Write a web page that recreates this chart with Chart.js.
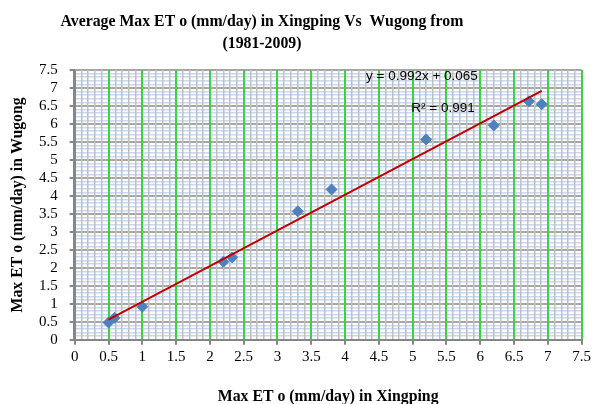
<!DOCTYPE html>
<html>
<head>
<meta charset="utf-8">
<script src="https://cdn.jsdelivr.net/npm/chart.js@4.4.1/dist/chart.umd.min.js"></script>
<style>
  html, body { margin: 0; padding: 0; background: #fff; }
  #wrap { width: 594px; height: 404px; }
</style>
</head>
<body>
<div id="wrap"><canvas id="grafico" width="594" height="404"></canvas></div>
<script>
const xingping = [0.5, 0.59, 1.0, 2.2, 2.33, 3.3, 3.8, 5.2, 6.2, 6.72, 6.91];
const wugong   = [0.48, 0.61, 0.92, 2.17, 2.29, 3.57, 4.18, 5.57, 5.96, 6.63, 6.55];

// linear trend line as printed on the chart
const slope = 0.992;
const intercept = 0.065;
const eqLabel = 'y = 0.992x + 0.065';
const r2Label = 'R² = 0.991';

const titleLines = ['Average Max ET o (mm/day) in Xingping Vs  Wugong from', '(1981-2009)'];
const xTitle = 'Max ET o (mm/day) in Xingping';
const yTitle = 'Max ET o (mm/day) in Wugong';

const points = xingping.map((v, i) => ({ x: v, y: wugong[i] }));
const xMin = Math.min(...xingping), xMax = Math.max(...xingping);
const trend = [xMin, xMax].map(v => ({ x: v, y: slope * v + intercept }));

const isMajor = v => Math.round(v * 10) % 5 === 0;
const serif = '"Liberation Serif", "Times New Roman", serif';

// equation / R² labels and the (off-centre) chart title, as in the Excel original
const textPlugin = {
    id: 'eqText',
    afterDatasetsDraw(chart) {
        const { ctx, scales } = chart;
        ctx.save();
        ctx.fillStyle = '#000';
        ctx.font = '13.5px "Liberation Sans", Arial, sans-serif';
        ctx.textBaseline = 'middle';
        ctx.fillText(eqLabel, scales.x.getPixelForValue(4.31), scales.y.getPixelForValue(7.33));
        ctx.fillText(r2Label, scales.x.getPixelForValue(4.98), scales.y.getPixelForValue(6.43));

        ctx.font = 'bold 15.8px ' + serif;
        ctx.textAlign = 'center';
        const cx = chart.width * 0.441;
        titleLines.forEach((t, i) => ctx.fillText(t, cx, 22 + i * 22));
        ctx.restore();
    }
};

document.addEventListener("DOMContentLoaded", function () {
    const ctx = document.getElementById('grafico').getContext('2d');
    new Chart(ctx, {
        type: 'scatter',
        data: {
            datasets: [{
                label: 'Wugong',
                data: points,
                pointStyle: 'rectRot',
                pointRadius: 5.5,
                pointHoverRadius: 5.5,
                backgroundColor: '#4F81BD',
                borderColor: '#4F81BD',
                order: 2
            }, {
                label: 'Linear',
                type: 'line',
                data: trend,
                borderColor: '#C00000',
                borderWidth: 2,
                pointRadius: 0,
                fill: false,
                order: 1
            }]
        },
        options: {
            responsive: false,
            animation: false,
            layout: { padding: { left: 8, right: 7, top: 70, bottom: 0 } },
            plugins: {
                legend: { display: false },
                tooltip: { enabled: false },
                title: { display: false }
            },
            scales: {
                x: {
                    min: 0, max: 7.5,
                    border: { color: '#868686', width: 2 },
                    grid: {
                        z: -1,
                        color: c => c.tick.value === 0 ? '#868686' : (isMajor(c.tick.value) ? '#3FD23F' : '#C0C0C0'),
                        lineWidth: c => isMajor(c.tick.value) ? 2 : 1.5,
                        tickColor: c => isMajor(c.tick.value) ? '#868686' : 'rgba(0,0,0,0)',
                        tickLength: 5
                    },
                    ticks: {
                        stepSize: 0.1,
                        autoSkip: false,
                        maxRotation: 0,
                        color: '#000',
                        padding: 3,
                        font: { family: serif, size: 15 },
                        callback: v => isMajor(v) ? String(Math.round(v * 10) / 10) : ''
                    },
                    title: {
                        display: true,
                        text: xTitle,
                        color: '#000',
                        font: { family: serif, size: 15.8, weight: 'bold', lineHeight: 0.9 },
                        padding: { top: 21, bottom: 0 }
                    }
                },
                y: {
                    min: 0, max: 7.5,
                    border: { color: '#868686', width: 2.5 },
                    grid: {
                        z: -2,
                        color: c => isMajor(c.tick.value) ? '#A6A6A6' : '#C6D9F1',
                        lineWidth: c => isMajor(c.tick.value) ? 2 : 1.5,
                        tickColor: c => isMajor(c.tick.value) ? '#868686' : 'rgba(0,0,0,0)',
                        tickLength: 5
                    },
                    ticks: {
                        stepSize: 0.1,
                        autoSkip: false,
                        color: '#000',
                        padding: 12,
                        font: { family: serif, size: 15 },
                        callback: v => isMajor(v) ? String(Math.round(v * 10) / 10) : ''
                    },
                    title: {
                        display: true,
                        text: yTitle,
                        color: '#000',
                        font: { family: serif, size: 15.8, weight: 'bold' },
                        padding: { top: 0, bottom: 0 }
                    }
                }
            }
        },
        plugins: [textPlugin]
    });
});
</script>
</body>
</html>
